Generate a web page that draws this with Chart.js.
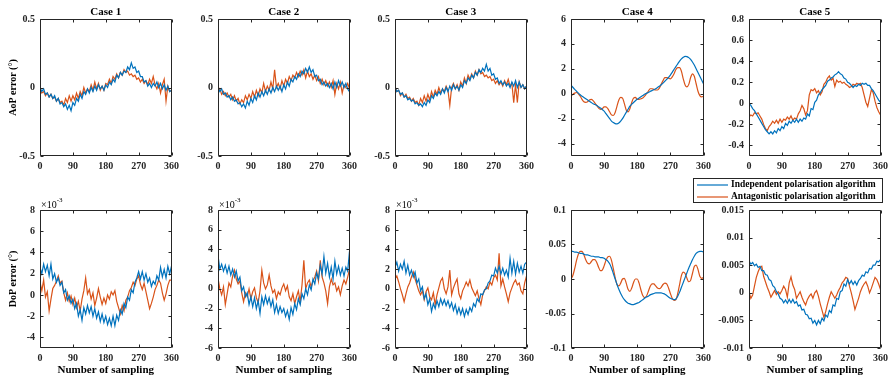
<!DOCTYPE html>
<html>
<head>
<meta charset="utf-8">
<script src="https://cdn.jsdelivr.net/npm/chart.js@4.4.0/dist/chart.umd.min.js"></script>
<style>
  body { margin: 0; background: #fff; width: 889px; height: 378px; position: relative; overflow: hidden; }
  canvas { position: absolute; }
</style>
</head>
<body>
<canvas id="aop1"></canvas>
<canvas id="aop2"></canvas>
<canvas id="aop3"></canvas>
<canvas id="aop4"></canvas>
<canvas id="aop5"></canvas>
<canvas id="dop1"></canvas>
<canvas id="dop2"></canvas>
<canvas id="dop3"></canvas>
<canvas id="dop4"></canvas>
<canvas id="dop5"></canvas>
<script>
// sampling positions (x axis)
const sampling = [0, 5, 10, 15, 20, 25, 30, 35, 40, 45, 50, 55, 60, 65, 70, 75, 80, 85, 90, 95,
  100, 105, 110, 115, 120, 125, 130, 135, 140, 145, 150, 155, 160, 165, 170, 175, 180, 185, 190, 195,
  200, 205, 210, 215, 220, 225, 230, 235, 240, 245, 250, 255, 260, 265, 270, 275, 280, 285, 290, 295,
  300, 305, 310, 315, 320, 325, 330, 335, 340, 345, 350, 355, 360];
const samplingTicks = [0, 90, 180, 270, 360];

const seriesNames = ['Independent polarisation algorithm', 'Antagonistic polarisation algorithm'];

// AoP error, case 1..5
const aop1Ind = [0.00, -0.03, -0.01, -0.05, -0.04, -0.07, -0.05, -0.08,
  -0.06, -0.10, -0.08, -0.12, -0.11, -0.14, -0.12, -0.16,
  -0.13, -0.17, -0.11, -0.13, -0.08, -0.10, -0.05, -0.08,
  -0.03, -0.05, -0.01, -0.04, 0.00, -0.03, 0.01, -0.02,
  0.02, -0.01, 0.01, -0.02, 0.02, 0.00, 0.04, 0.02,
  0.06, 0.04, 0.09, 0.07, 0.11, 0.09, 0.12, 0.11,
  0.15, 0.13, 0.18, 0.14, 0.15, 0.11, 0.12, 0.08,
  0.08, 0.04, 0.05, 0.01, 0.03, 0.00, 0.03, 0.01,
  0.04, 0.00, 0.03, -0.01, 0.02, -0.02, 0.01, -0.03,
  -0.02];
const aop1Ant = [-0.01, -0.04, -0.03, -0.06, -0.04, -0.07, -0.05, -0.08,
  -0.07, -0.10, -0.08, -0.11, -0.10, -0.13, -0.08, -0.11,
  -0.06, -0.10, -0.06, -0.09, -0.04, -0.08, -0.03, -0.06,
  0.00, -0.04, -0.01, -0.03, 0.02, -0.02, 0.04, -0.01,
  0.03, -0.02, 0.01, -0.02, 0.03, 0.02, 0.06, 0.03,
  0.08, 0.06, 0.10, 0.07, 0.11, 0.09, 0.13, 0.11,
  0.12, 0.09, 0.10, 0.08, 0.09, 0.06, 0.07, 0.04,
  0.06, 0.03, 0.05, 0.02, 0.06, 0.03, 0.08, 0.02,
  -0.01, 0.03, -0.04, 0.02, 0.06, -0.10, 0.01, -0.03,
  -0.02];

const aop2Ind = [0.00, -0.03, -0.01, -0.05, -0.04, -0.07, -0.06, -0.09,
  -0.07, -0.10, -0.09, -0.12, -0.11, -0.14, -0.12, -0.15,
  -0.10, -0.13, -0.08, -0.11, -0.06, -0.09, -0.04, -0.07,
  -0.03, -0.06, -0.02, -0.05, -0.01, -0.04, 0.00, -0.03,
  0.01, -0.02, 0.01, -0.03, 0.02, -0.01, 0.04, 0.01,
  0.06, 0.04, 0.08, 0.06, 0.10, 0.08, 0.12, 0.10,
  0.14, 0.11, 0.15, 0.11, 0.13, 0.08, 0.09, 0.05,
  0.06, 0.02, 0.04, 0.01, 0.03, 0.00, 0.03, -0.01,
  0.04, 0.00, 0.05, 0.01, 0.04, 0.00, 0.03, -0.01,
  -0.03];
const aop2Ant = [-0.04, -0.01, -0.05, -0.03, -0.06, -0.04, -0.07, -0.05,
  -0.09, -0.06, -0.10, -0.08, -0.12, -0.09, -0.11, -0.06,
  -0.09, -0.05, -0.08, -0.03, -0.07, -0.02, -0.06, -0.01,
  -0.04, 0.03, -0.03, 0.01, -0.02, 0.04, -0.01, 0.13,
  0.00, 0.03, -0.01, 0.05, 0.01, 0.06, 0.03, 0.08,
  0.05, 0.09, 0.07, 0.11, 0.08, 0.12, 0.09, 0.13,
  0.07, 0.12, 0.08, 0.10, 0.06, 0.09, 0.05, 0.08,
  0.03, 0.06, 0.02, 0.05, 0.01, 0.04, 0.00, 0.05,
  -0.05, 0.03, -0.01, 0.04, -0.04, 0.02, 0.00, 0.03,
  -0.01];

const aop3Ind = [0.00, -0.03, -0.02, -0.05, -0.04, -0.07, -0.06, -0.09,
  -0.08, -0.10, -0.09, -0.12, -0.11, -0.13, -0.12, -0.14,
  -0.11, -0.13, -0.09, -0.11, -0.06, -0.08, -0.04, -0.06,
  -0.03, -0.05, -0.01, -0.04, 0.00, -0.03, 0.01, -0.02,
  0.02, -0.01, 0.01, -0.02, 0.02, 0.00, 0.05, 0.03,
  0.07, 0.05, 0.09, 0.07, 0.11, 0.09, 0.13, 0.11,
  0.14, 0.12, 0.17, 0.12, 0.14, 0.09, 0.10, 0.06,
  0.07, 0.03, 0.05, 0.02, 0.04, 0.01, 0.03, 0.00,
  0.04, 0.01, 0.05, 0.00, 0.04, 0.00, 0.02, -0.01,
  0.01];
const aop3Ant = [0.01, -0.03, -0.02, -0.06, -0.04, -0.07, -0.05, -0.08,
  -0.07, -0.10, -0.08, -0.11, -0.10, -0.13, -0.08, -0.11,
  -0.06, -0.10, -0.05, -0.09, -0.03, -0.07, -0.02, -0.05,
  0.00, -0.04, -0.01, -0.03, 0.01, -0.02, -0.13, 0.00,
  0.03, -0.01, 0.02, -0.02, 0.04, 0.01, 0.07, 0.03,
  0.09, 0.06, 0.10, 0.07, 0.12, 0.09, 0.13, 0.10,
  0.11, 0.08, 0.09, 0.07, 0.08, 0.05, 0.06, 0.03,
  0.05, 0.02, 0.04, 0.01, 0.05, 0.02, 0.06, 0.01,
  0.03, -0.11, 0.02, -0.11, 0.04, 0.00, 0.02, -0.01,
  0.01];

const aop4Ind = [0.70, 0.52, 0.35, 0.20, 0.05, -0.08, -0.20, -0.30,
  -0.40, -0.50, -0.60, -0.70, -0.80, -0.87, -0.95, -1.05,
  -1.15, -1.27, -1.40, -1.60, -1.80, -2.00, -2.20, -2.32,
  -2.40, -2.42, -2.35, -2.20, -2.00, -1.75, -1.50, -1.25,
  -1.00, -0.85, -0.70, -0.57, -0.45, -0.35, -0.25, -0.15,
  -0.05, 0.03, 0.10, 0.18, 0.25, 0.32, 0.40, 0.50,
  0.60, 0.72, 0.85, 1.00, 1.15, 1.32, 1.50, 1.72,
  1.95, 2.18, 2.40, 2.62, 2.80, 2.93, 3.00, 2.98,
  2.90, 2.75, 2.55, 2.30, 2.00, 1.70, 1.40, 1.10,
  0.80];
const aop4Ant = [-0.20, -0.05, 0.05, 0.10, 0.00, -0.20, -0.45, -0.65,
  -0.70, -0.65, -0.50, -0.45, -0.55, -0.75, -0.95, -1.15,
  -1.25, -1.20, -1.05, -1.05, -1.20, -1.45, -1.70, -1.75,
  -1.50, -1.00, -0.50, -0.30, -0.35, -0.80, -1.30, -1.45,
  -1.20, -0.70, -0.35, -0.30, -0.45, -0.45, -0.40, -0.35,
  -0.20, 0.00, 0.20, 0.40, 0.40, 0.35, 0.30, 0.30,
  0.45, 0.75, 1.05, 1.30, 1.30, 1.25, 1.20, 1.35,
  1.60, 1.95, 2.10, 2.10, 1.80, 1.20, 0.70, 0.55,
  0.75, 1.30, 1.60, 1.40, 0.80, 0.20, -0.15, -0.25,
  -0.20];

const aop5Ind = [0.00, -0.02, -0.05, -0.07, -0.10, -0.13, -0.16, -0.19,
  -0.22, -0.25, -0.27, -0.29, -0.27, -0.29, -0.26, -0.28,
  -0.24, -0.26, -0.22, -0.24, -0.19, -0.21, -0.17, -0.19,
  -0.16, -0.18, -0.15, -0.18, -0.15, -0.17, -0.14, -0.15,
  -0.10, -0.12, -0.05, -0.06, 0.01, 0.03, 0.08, 0.10,
  0.13, 0.15, 0.17, 0.21, 0.22, 0.24, 0.25, 0.27,
  0.28, 0.30, 0.28, 0.27, 0.24, 0.23, 0.20, 0.19,
  0.17, 0.15, 0.17, 0.16, 0.18, 0.17, 0.19, 0.18,
  0.19, 0.17, 0.17, 0.14, 0.12, 0.09, 0.06, 0.03,
  0.01];
const aop5Ant = [-0.13, -0.11, -0.12, -0.09, -0.10, -0.09, -0.12, -0.15,
  -0.20, -0.24, -0.26, -0.22, -0.20, -0.17, -0.19, -0.16,
  -0.19, -0.15, -0.18, -0.15, -0.16, -0.13, -0.15, -0.12,
  -0.16, -0.14, -0.15, -0.10, -0.07, -0.02, -0.05, -0.11,
  -0.07, 0.08, 0.13, 0.12, 0.14, 0.10, 0.12, 0.08,
  0.11, 0.18, 0.20, 0.24, 0.26, 0.22, 0.24, 0.16,
  0.22, 0.20, 0.21, 0.19, 0.20, 0.18, 0.17, 0.15,
  0.16, 0.18, 0.17, 0.19, 0.18, 0.19, 0.15, 0.08,
  0.01, -0.03, 0.05, 0.13, 0.10, 0.02, -0.04, -0.08,
  -0.11];

// DoP error, case 1..3 in units of 1e-3, case 4..5 plain
const dop1Ind = [2.6, 2.0, 2.9, 2.2, 2.8, 1.8, 2.9, 1.5,
  2.0, 1.2, 1.6, 0.9, 1.2, 0.2, 0.5, -0.5,
  -0.1, -0.8, -0.4, -1.3, -0.8, -2.0, -1.4, -2.4,
  -1.2, -1.8, -1.0, -1.7, -1.1, -2.0, -1.3, -2.2,
  -1.6, -2.5, -1.8, -2.6, -2.0, -2.8, -2.2, -2.9,
  -2.0, -2.9, -1.9, -2.4, -1.4, -1.8, -0.8, -1.2,
  -0.2, -0.5, 0.5, 0.2, 1.2, 1.6, 2.2, 1.5,
  2.2, 1.4, 2.0, 1.2, 1.6, 0.8, 1.3, 1.0,
  1.8, 1.4, 2.6, 1.7, 2.4, 1.6, 2.7, 2.0,
  2.7];
const dop1Ant = [1.2, 0.4, 1.4, -0.2, 0.3, -1.5, -0.4, 0.6,
  0.9, 1.3, 1.8, 1.1, 1.3, 0.2, -0.5, 0.2,
  -0.6, -0.1, -0.9, -0.3, -1.2, -0.6, -1.5, -0.4,
  0.4, 1.6, 0.1, 0.5, -0.4, 0.2, -1.0, -0.3,
  0.6, -0.2, -0.9, -0.3, -0.8, 0.0, -0.4, 0.3,
  0.0, 0.4, -0.6, -1.2, -1.8, -1.0, -1.5, -0.5,
  -0.2, 0.4, 0.7, 1.2, 0.9, 1.5, 1.8, 1.0,
  0.5, 1.1, 0.3, -0.5, -1.3, -0.8, -0.2, 0.5,
  0.9, 1.4, 1.1, 0.2, -0.5, 0.1, 0.9, 1.4,
  1.4];

const dop2Ind = [3.4, 2.0, 2.5, 1.8, 2.4, 1.6, 2.3, 1.4,
  2.0, 1.2, 1.8, 0.8, 1.2, -0.2, 0.2, -0.8,
  -0.4, -1.6, -0.8, -1.8, -0.9, -2.0, -1.2, -2.5,
  -0.8, -1.6, -0.7, -1.5, -0.9, -1.8, -1.1, -2.4,
  -1.6, -2.5, -1.8, -2.4, -2.0, -2.8, -2.2, -3.1,
  -1.9, -2.6, -1.5, -2.1, -1.0, -1.6, -0.5, -1.0,
  0.0, -0.6, 0.4, -0.1, 1.0, 0.5, 1.6, 1.0,
  2.4, 1.5, 3.3, 1.6, 2.6, 1.2, 2.2, 1.0,
  2.8, 1.5, 2.3, 1.4, 2.1, 1.3, 2.2, 1.8,
  3.8];
const dop2Ant = [1.1, 0.0, -0.6, 0.2, -1.6, -0.5, 0.6, 0.2,
  1.3, 1.9, 1.0, 0.5, 0.8, -0.4, -1.3, -0.4,
  -0.8, 0.0, -1.0, -0.3, 0.1, -0.9, -1.4, -0.2,
  1.9, 0.6, 0.0, 0.4, 1.4, 0.3, -0.4, -0.1,
  -1.0, -0.3, -0.6, 0.1, 0.5, -0.2, 0.3, -0.8,
  -1.2, -0.5, -1.5, -0.8, -0.2, -1.3, 0.4, 2.9,
  0.0, 0.6, 0.9, 0.2, 0.8, 1.2, 1.8, 0.8,
  2.9, 1.2, 0.6, -0.2, -1.5, 0.2, 1.0, 0.4,
  0.6, -0.2, 0.2, -0.6, 0.3, 0.9, 0.5, 1.2,
  2.0];

const dop3Ind = [2.2, 2.7, 1.8, 2.5, 2.0, 2.8, 1.6, 2.4,
  1.4, 1.9, 1.2, 1.7, 0.6, 1.0, -0.2, 0.2,
  -1.0, -0.5, -1.6, -1.0, -2.3, -1.5, -2.0, -1.2,
  -1.8, -1.0, -1.6, -1.1, -1.7, -1.2, -1.9, -1.4,
  -2.2, -1.6, -2.5, -1.9, -2.6, -2.0, -2.8, -2.1,
  -2.6, -1.9, -2.3, -1.5, -1.8, -1.0, -1.3, -0.5,
  -0.6, -0.1, 0.0, 0.6, 0.8, 1.4, 1.3, 2.1,
  1.6, 2.3, 1.5, 2.1, 1.4, 1.9, 1.2, 3.1,
  1.6, 2.8, 1.5, 2.6, 1.7, 2.3, 1.6, 2.5,
  2.7];
const dop3Ant = [1.0, 1.3, 0.7, 0.0, -0.6, -1.3, -0.5, 0.2,
  0.6, 1.2, 1.7, 1.0, 0.4, -0.2, -0.6, -0.2,
  -1.1, -0.3, 0.1, -0.8, -1.1, -0.4, -1.6, -0.6,
  0.1, 0.8, 1.1, 0.0, -0.5, 0.2, 1.9, -0.6,
  0.1, 0.6, 1.0, -0.5, -1.0, -0.2, 0.2, 0.7,
  0.3, 0.9, 0.1, -0.3, -0.7, -0.2, -1.0, -1.6,
  -0.6, -0.2, 0.2, 0.0, 0.7, 0.4, 1.1, 1.4,
  0.9, 3.6, 0.3, 1.0, 0.2, -0.5, -1.3, -0.4,
  0.1, 0.6, 0.9, 0.4, 0.6, -0.2, -0.5, 0.6,
  1.3];

const dop4Ind = [0.040, 0.040, 0.039, 0.039, 0.038, 0.037, 0.037, 0.036,
  0.035, 0.035, 0.034, 0.033, 0.033, 0.032, 0.032, 0.032,
  0.031, 0.031, 0.030, 0.028, 0.026, 0.022, 0.016, 0.008,
  0.000, -0.008, -0.015, -0.021, -0.026, -0.030, -0.033, -0.035,
  -0.036, -0.037, -0.037, -0.036, -0.035, -0.034, -0.032, -0.030,
  -0.028, -0.026, -0.025, -0.023, -0.022, -0.021, -0.020, -0.020,
  -0.020, -0.020, -0.021, -0.022, -0.024, -0.026, -0.028, -0.029,
  -0.030, -0.029, -0.025, -0.019, -0.012, -0.005, 0.002, 0.009,
  0.016, 0.022, 0.028, 0.033, 0.037, 0.039, 0.040, 0.040,
  0.039];
const dop4Ant = [0.000, 0.005, 0.015, 0.027, 0.036, 0.040, 0.040, 0.035,
  0.028, 0.023, 0.022, 0.025, 0.028, 0.028, 0.024, 0.017,
  0.012, 0.013, 0.019, 0.027, 0.032, 0.033, 0.027, 0.015,
  0.002, -0.008, -0.010, -0.006, 0.000, 0.001, -0.006, -0.015,
  -0.018, -0.013, -0.005, 0.000, 0.000, -0.006, -0.016, -0.024,
  -0.027, -0.025, -0.018, -0.011, -0.007, -0.007, -0.010, -0.013,
  -0.014, -0.012, -0.008, -0.006, -0.007, -0.013, -0.021, -0.028,
  -0.031, -0.030, -0.021, -0.008, 0.005, 0.010, 0.008, 0.001,
  -0.004, -0.002, 0.008, 0.018, 0.020, 0.014, 0.004, 0.001,
  0.002];

const dop5Ind = [0.0058, 0.0052, 0.0055, 0.0049, 0.0052, 0.0046, 0.0048, 0.0040,
  0.0040, 0.0033, 0.0032, 0.0024, 0.0022, 0.0013, 0.0010, 0.0002,
  -0.0002, -0.0010, -0.0012, -0.0018, -0.0013, -0.0019, -0.0012, -0.0018,
  -0.0012, -0.0019, -0.0016, -0.0024, -0.0022, -0.0031, -0.0030, -0.0039,
  -0.0040, -0.0047, -0.0046, -0.0055, -0.0050, -0.0058, -0.0050, -0.0056,
  -0.0046, -0.0051, -0.0040, -0.0044, -0.0032, -0.0036, -0.0022, -0.0024,
  -0.0010, -0.0012, 0.0002, 0.0004, 0.0016, 0.0012, 0.0024, 0.0016,
  0.0022, 0.0015, 0.0021, 0.0014, 0.0022, 0.0026, 0.0032, 0.0030,
  0.0038, 0.0036, 0.0044, 0.0043, 0.0050, 0.0050, 0.0057, 0.0056,
  0.0060];
const dop5Ant = [0.0002, -0.0010, -0.0004, 0.0012, 0.0028, 0.0038, 0.0046, 0.0048,
  0.0030, 0.0020, 0.0010, 0.0002, -0.0008, -0.0002, 0.0004, -0.0003,
  0.0002, -0.0002, 0.0004, 0.0012, 0.0006, -0.0008, 0.0018, 0.0029,
  0.0014, 0.0006, -0.0010, -0.0004, 0.0002, -0.0008, -0.0016, -0.0022,
  -0.0012, -0.0006, -0.0002, -0.0010, 0.0000, 0.0004, -0.0006, -0.0020,
  -0.0032, -0.0044, -0.0034, -0.0020, -0.0008, 0.0002, -0.0004, -0.0010,
  -0.0004, 0.0004, 0.0010, 0.0018, 0.0022, 0.0028, 0.0026, 0.0012,
  0.0000, -0.0014, -0.0030, -0.0020, -0.0010, 0.0002, 0.0010, 0.0016,
  0.0020, 0.0012, 0.0000, 0.0008, 0.0018, 0.0028, 0.0024, 0.0016,
  0.0006];

// y tick labels
const aopTicks = [-0.5, 0, 0.5];
const aop4Ticks = [-4, -2, 0, 2, 4, 6];
const aop5Ticks = [-0.4, -0.2, 0, 0.2, 0.4, 0.6, 0.8];
const dop1Ticks = [-4, -2, 0, 2, 4, 6, 8];
const dop23Ticks = [-6, -4, -2, 0, 2, 4, 6, 8];
const dop4Ticks = [-0.1, -0.05, 0, 0.05, 0.1];
const dop5Ticks = [-0.01, -0.005, 0, 0.005, 0.01, 0.015];

const BLUE = '#0072BD';
const ORANGE = '#D95319';
const FONT = '"Liberation Serif", "Times New Roman", serif';

Chart.defaults.font.family = FONT;
Chart.defaults.font.size = 10;
Chart.defaults.font.weight = 'bold';
Chart.defaults.color = '#262626';

// box, inward ticks and the extra texts, drawn the matlab way
const matlabFrame = {
  id: 'matlabFrame',
  afterDatasetsDraw(chart, args, o) {
    const { ctx, chartArea: a } = chart;
    const xs = chart.scales.x, ys = chart.scales.y;
    const L = Math.round(a.left) + 0.5, R = Math.round(a.right) - 0.5;
    const T = Math.round(a.top) + 0.5, B = Math.round(a.bottom) - 0.5;
    ctx.save();
    ctx.strokeStyle = '#262626';
    ctx.lineWidth = 1;
    ctx.beginPath();
    ctx.rect(L, T, R - L, B - T);
    xs.ticks.forEach(t => {
      const px = Math.round(xs.getPixelForValue(t.value)) + 0.5;
      ctx.moveTo(px, B); ctx.lineTo(px, B - 3);
      ctx.moveTo(px, T); ctx.lineTo(px, T + 3);
    });
    ys.ticks.forEach(t => {
      const py = Math.round(ys.getPixelForValue(t.value)) + 0.5;
      ctx.moveTo(L, py); ctx.lineTo(L + 3, py);
      ctx.moveTo(R, py); ctx.lineTo(R - 3, py);
    });
    ctx.stroke();

    ctx.fillStyle = '#000';
    ctx.textAlign = 'center';
    ctx.textBaseline = 'middle';
    const cx = (a.left + a.right) / 2;
    if (o.title) {
      ctx.font = 'bold 11px ' + FONT;
      ctx.fillText(o.title, cx, a.top - 7);
    }
    if (o.xTitle) {
      ctx.font = 'bold 11px ' + FONT;
      ctx.fillText(o.xTitle, cx, a.bottom + 22);
    }
    if (o.yTitle) {
      ctx.save();
      ctx.font = 'bold 10px ' + FONT;
      ctx.translate(a.left - 27, (a.top + a.bottom) / 2);
      ctx.rotate(-Math.PI / 2);
      ctx.fillText(o.yTitle, 0, 0);
      ctx.restore();
    }
    if (o.exponent) {
      ctx.textAlign = 'left';
      ctx.font = '10px ' + FONT;
      ctx.fillText('\u00d710', a.left + 1, a.top - 5);
      const w = ctx.measureText('\u00d710').width;
      ctx.font = '7px ' + FONT;
      ctx.fillText(o.exponent, a.left + 1 + w, a.top - 10);
    }
    if (o.legend) {
      const g = o.legend;
      ctx.fillStyle = '#fff';
      ctx.fillRect(g.x, g.y, g.w, g.h);
      ctx.strokeStyle = '#262626';
      ctx.strokeRect(g.x + 0.5, g.y + 0.5, g.w, g.h);
      [BLUE, ORANGE].forEach((c, i) => {
        const ly = g.y + 7 + i * 12;
        ctx.strokeStyle = c;
        ctx.lineWidth = 1.2;
        ctx.beginPath();
        ctx.moveTo(g.x + 4, ly); ctx.lineTo(g.x + 35, ly);
        ctx.stroke();
        ctx.fillStyle = '#000';
        ctx.font = 'bold 9.5px ' + FONT;
        ctx.textAlign = 'left';
        ctx.fillText(seriesNames[i], g.x + 38, ly);
      });
    }
    ctx.restore();
  }
};

const ROWS = {
  top: { canvasTop: 0, canvasH: 180, plotTop: 19, plotBottom: 156 },
  bottom: { canvasTop: 172, canvasH: 206, plotTop: 210, plotBottom: 348 }
};
const COLS = [[40, 173], [218, 351], [395, 528], [571, 705], [749, 882]];

function makePanel(id, row, col, ind, ant, yMin, yMax, yTicks, extra) {
  const r = ROWS[row];
  const [pl, pr] = COLS[col];
  const axisW = extra.axisW || 44;
  const canvas = document.getElementById(id);
  const left = pl - axisW;
  canvas.width = axisW + (pr - pl) + 10;
  canvas.height = r.canvasH;
  canvas.style.left = left + 'px';
  canvas.style.top = r.canvasTop + 'px';

  const smooth = extra.smooth ? 'monotone' : 'default';
  const mk = (arr, color) => ({
    data: sampling.map((s, i) => ({ x: s, y: arr[i] })),
    borderColor: color,
    borderWidth: 1.2,
    pointRadius: 0,
    fill: false,
    cubicInterpolationMode: smooth,
    tension: extra.smooth ? 0.4 : 0
  });

  const frameOpts = Object.assign({}, extra);
  if (extra.legend) {
    frameOpts.legend = {
      x: extra.legend.x - left, y: extra.legend.y - r.canvasTop,
      w: extra.legend.w, h: extra.legend.h
    };
  }

  return new Chart(canvas, {
    type: 'line',
    data: { datasets: [mk(ind, BLUE), mk(ant, ORANGE)] },
    options: {
      responsive: false,
      animation: false,
      devicePixelRatio: 1,
      layout: { padding: { top: r.plotTop - r.canvasTop, right: 10, left: 0, bottom: 0 } },
      plugins: {
        legend: { display: false },
        tooltip: { enabled: false },
        matlabFrame: frameOpts
      },
      scales: {
        x: {
          type: 'linear', min: 0, max: 360,
          grid: { display: false, drawTicks: false },
          border: { display: false },
          ticks: { padding: 4, maxRotation: 0, callback: v => String(v) },
          afterBuildTicks: s => { s.ticks = samplingTicks.map(v => ({ value: v })); },
          afterFit: s => { s.height = r.canvasTop + r.canvasH - r.plotBottom; }
        },
        y: {
          type: 'linear', min: yMin, max: yMax,
          grid: { display: false, drawTicks: false },
          border: { display: false },
          ticks: { padding: 5, callback: v => String(v) },
          afterBuildTicks: s => { s.ticks = yTicks.map(v => ({ value: v })); },
          afterFit: s => { s.width = axisW; }
        }
      }
    },
    plugins: [matlabFrame]
  });
}

makePanel('aop1', 'top', 0, aop1Ind, aop1Ant, -0.5, 0.5, aopTicks, { title: 'Case 1', yTitle: 'AoP error (\u00b0)' });
makePanel('aop2', 'top', 1, aop2Ind, aop2Ant, -0.5, 0.5, aopTicks, { title: 'Case 2' });
makePanel('aop3', 'top', 2, aop3Ind, aop3Ant, -0.5, 0.5, aopTicks, { title: 'Case 3' });
makePanel('aop4', 'top', 3, aop4Ind, aop4Ant, -5, 6, aop4Ticks, { title: 'Case 4', smooth: true });
makePanel('aop5', 'top', 4, aop5Ind, aop5Ant, -0.5, 0.8, aop5Ticks, { title: 'Case 5' });

makePanel('dop1', 'bottom', 0, dop1Ind, dop1Ant, -5, 8, dop1Ticks, { xTitle: 'Number of sampling', yTitle: 'DoP error (\u00b0)', exponent: '-3' });
makePanel('dop2', 'bottom', 1, dop2Ind, dop2Ant, -6, 8, dop23Ticks, { xTitle: 'Number of sampling', exponent: '-3' });
makePanel('dop3', 'bottom', 2, dop3Ind, dop3Ant, -6, 8, dop23Ticks, { xTitle: 'Number of sampling', exponent: '-3' });
makePanel('dop4', 'bottom', 3, dop4Ind, dop4Ant, -0.1, 0.1, dop4Ticks, { xTitle: 'Number of sampling', smooth: true });
makePanel('dop5', 'bottom', 4, dop5Ind, dop5Ant, -0.01, 0.015, dop5Ticks, {
  xTitle: 'Number of sampling', axisW: 59,
  legend: { x: 693, y: 178, w: 189, h: 24 }
});
</script>
</body>
</html>
